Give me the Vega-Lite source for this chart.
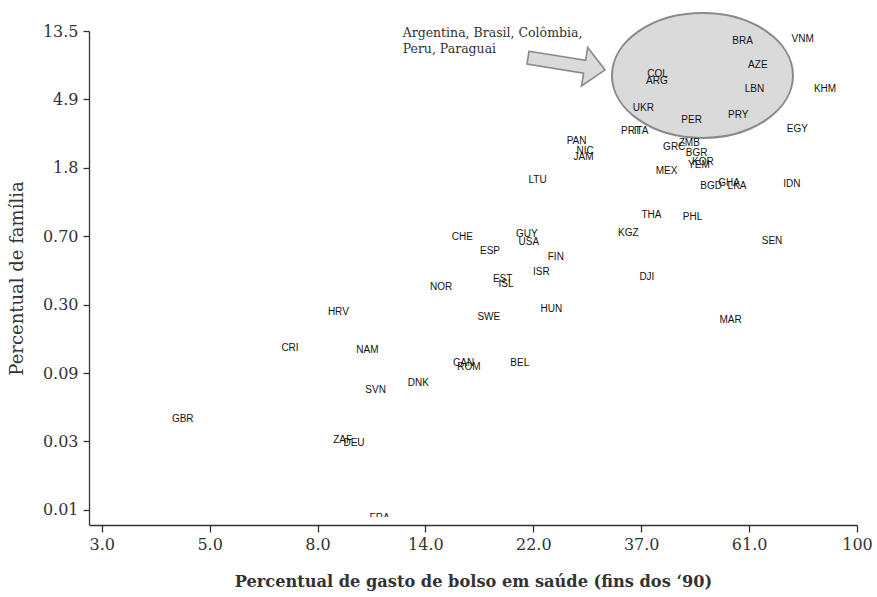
{
  "$schema": "https://vega.github.io/schema/vega-lite/v6.json",
  "width": 768,
  "height": 486,
  "autosize": "none",
  "padding": {"left": 89, "top": 31, "right": 20, "bottom": 80},
  "background": "white",
  "config": {
    "view": {"stroke": null},
    "axis": {
      "grid": false,
      "domainColor": "#333",
      "domainWidth": 1.3,
      "tickColor": "#333",
      "tickWidth": 1.3,
      "labelFont": "DejaVu Serif",
      "labelFontSize": 16,
      "labelColor": "#333",
      "titleFont": "DejaVu Serif",
      "titleColor": "#333"
    }
  },
  "datasets": {
    "countries": [
      {"code": "BRA", "gasto": 58.8, "familia": 11.67},
      {"code": "VNM", "gasto": 77.7, "familia": 11.97},
      {"code": "AZE", "gasto": 63.1, "familia": 8.06},
      {"code": "COL", "gasto": 39.6, "familia": 7.07},
      {"code": "ARG", "gasto": 39.5, "familia": 6.36},
      {"code": "LBN", "gasto": 62.1, "familia": 5.62},
      {"code": "KHM", "gasto": 86.2, "familia": 5.67},
      {"code": "UKR", "gasto": 37.1, "familia": 4.26},
      {"code": "PRY", "gasto": 57.6, "familia": 3.83},
      {"code": "PER", "gasto": 46.4, "familia": 3.54},
      {"code": "EGY", "gasto": 75.8, "familia": 3.09},
      {"code": "PRT", "gasto": 35.0, "familia": 3.0},
      {"code": "ITA", "gasto": 36.7, "familia": 3.0},
      {"code": "ZMB", "gasto": 45.9, "familia": 2.49},
      {"code": "GRC", "gasto": 42.8, "familia": 2.37},
      {"code": "BGR", "gasto": 47.5, "familia": 2.16},
      {"code": "PAN", "gasto": 27.2, "familia": 2.58},
      {"code": "NIC", "gasto": 28.3, "familia": 2.23},
      {"code": "JAM", "gasto": 28.1, "familia": 2.02},
      {"code": "LTU", "gasto": 22.7, "familia": 1.43},
      {"code": "MEX", "gasto": 41.3, "familia": 1.64},
      {"code": "KOR", "gasto": 48.9, "familia": 1.89},
      {"code": "YEM", "gasto": 48.0, "familia": 1.8},
      {"code": "BGD", "gasto": 50.8, "familia": 1.3},
      {"code": "GHA", "gasto": 55.2, "familia": 1.38},
      {"code": "LKA", "gasto": 57.3, "familia": 1.3},
      {"code": "IDN", "gasto": 73.9, "familia": 1.35},
      {"code": "THA", "gasto": 38.5, "familia": 0.847},
      {"code": "PHL", "gasto": 46.6, "familia": 0.826},
      {"code": "KGZ", "gasto": 34.6, "familia": 0.643},
      {"code": "CHE", "gasto": 16.0, "familia": 0.606},
      {"code": "GUY", "gasto": 21.6, "familia": 0.633},
      {"code": "USA", "gasto": 21.8, "familia": 0.567},
      {"code": "SEN", "gasto": 67.4, "familia": 0.57},
      {"code": "ESP", "gasto": 18.2, "familia": 0.493},
      {"code": "FIN", "gasto": 24.7, "familia": 0.452},
      {"code": "ISR", "gasto": 23.1, "familia": 0.358},
      {"code": "DJI", "gasto": 37.7, "familia": 0.332},
      {"code": "EST", "gasto": 19.3, "familia": 0.322},
      {"code": "ISL", "gasto": 19.6, "familia": 0.3},
      {"code": "NOR", "gasto": 14.5, "familia": 0.285},
      {"code": "HUN", "gasto": 24.2, "familia": 0.205},
      {"code": "SWE", "gasto": 18.1, "familia": 0.181},
      {"code": "MAR", "gasto": 55.6, "familia": 0.173},
      {"code": "HRV", "gasto": 9.0, "familia": 0.196},
      {"code": "CRI", "gasto": 7.19, "familia": 0.115},
      {"code": "NAM", "gasto": 10.3, "familia": 0.111},
      {"code": "CAN", "gasto": 16.1, "familia": 0.0909},
      {"code": "ROM", "gasto": 16.5, "familia": 0.0856},
      {"code": "BEL", "gasto": 20.9, "familia": 0.0909},
      {"code": "DNK", "gasto": 13.05, "familia": 0.0679},
      {"code": "SVN", "gasto": 10.7, "familia": 0.0608},
      {"code": "GBR", "gasto": 4.37, "familia": 0.0392},
      {"code": "ZAF", "gasto": 9.18, "familia": 0.0287},
      {"code": "DEU", "gasto": 9.68, "familia": 0.0273},
      {"code": "FRA", "gasto": 10.9, "familia": 0.0089}
    ],
    "ellipse": [{"gasto": 48.8, "familia": 6.91}],
    "arrow": [{"gasto": 25.96, "familia": 8.24}],
    "note": [{"gasto": 12.13, "familia": 12.4, "label": "Argentina, Brasil, Colômbia,\nPeru, Paraguai"}]
  },
  "encoding": {
    "x": {
      "field": "gasto",
      "type": "quantitative",
      "scale": {"type": "log", "domain": [2.828, 100], "nice": false, "zero": false},
      "axis": {
        "title": "Percentual de gasto de bolso em saúde (fins dos ‘90)",
        "titleFontWeight": "bold",
        "titleFontSize": 16.2,
        "titlePadding": 21,
        "offset": 8,
        "tickSize": 7,
        "labelPadding": 4,
        "values": [3, 4.9507, 8.17, 13.4826, 22.2496, 36.717, 60.593, 100],
        "labelExpr": "datum.value < 4 ? '3.0' : datum.value < 6 ? '5.0' : datum.value < 10 ? '8.0' : datum.value < 18 ? '14.0' : datum.value < 30 ? '22.0' : datum.value < 50 ? '37.0' : datum.value < 80 ? '61.0' : '100'",
        "labelFlush": false,
        "labelOverlap": false
      }
    },
    "y": {
      "field": "familia",
      "type": "quantitative",
      "scale": {"type": "log", "domain": [0.007966, 13.5], "range": [494, 0], "nice": false, "zero": false},
      "axis": {
        "title": "Percentual de família",
        "titleFontWeight": "normal",
        "titleFontSize": 18,
        "titlePadding": 16,
        "tickSize": 6,
        "labelPadding": 5,
        "values": [0.01, 0.028002, 0.078411, 0.21957, 0.61484, 1.7217, 4.8211, 13.5],
        "labelExpr": "datum.value < 0.02 ? '0.01' : datum.value < 0.05 ? '0.03' : datum.value < 0.15 ? '0.09' : datum.value < 0.4 ? '0.30' : datum.value < 1 ? '0.70' : datum.value < 3 ? '1.8' : datum.value < 8 ? '4.9' : '13.5'",
        "labelFlush": false,
        "labelOverlap": false
      }
    }
  },
  "layer": [
    {
      "data": {"name": "ellipse"},
      "mark": {
        "type": "point",
        "shape": "M-1,0A1,0.69,0,1,0,1,0A1,0.69,0,1,0,-1,0Z",
        "size": 32761,
        "filled": true,
        "fill": "#dadada",
        "stroke": "#8a8a8a",
        "strokeWidth": 2,
        "opacity": 1,
        "fillOpacity": 1,
        "strokeOpacity": 1
      }
    },
    {
      "data": {"name": "arrow"},
      "mark": {
        "type": "point",
        "shape": "M-1,-0.167L0.47,-0.167L0.47,-0.5L1,0L0.47,0.5L0.47,0.167L-1,0.167Z",
        "size": 6084,
        "angle": 9,
        "filled": true,
        "fill": "#dadada",
        "stroke": "#8a8a8a",
        "strokeWidth": 1.6,
        "opacity": 1,
        "fillOpacity": 1,
        "strokeOpacity": 1
      }
    },
    {
      "data": {"name": "note"},
      "mark": {
        "type": "text",
        "font": "DejaVu Serif",
        "fontSize": 12.5,
        "color": "#333",
        "align": "left",
        "baseline": "alphabetic",
        "lineBreak": "\n",
        "lineHeight": 16.5
      },
      "encoding": {"text": {"field": "label"}}
    },
    {
      "data": {"name": "countries"},
      "mark": {
        "type": "text",
        "font": "Liberation Sans",
        "fontSize": 10,
        "color": "#111",
        "align": "center",
        "baseline": "middle",
        "clip": true
      },
      "encoding": {"text": {"field": "code"}}
    }
  ]
}
